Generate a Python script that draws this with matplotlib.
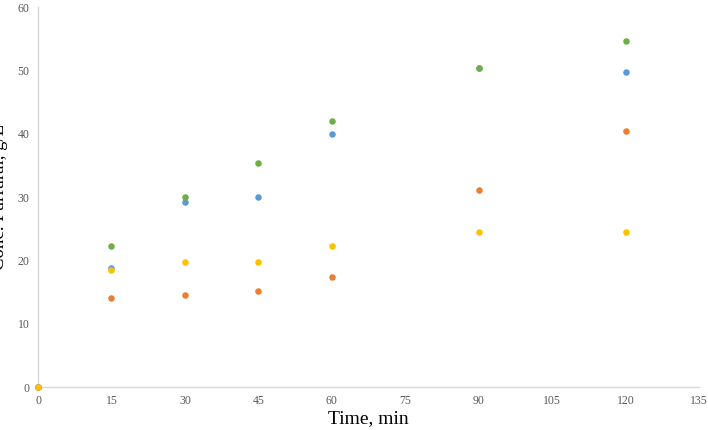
import matplotlib
matplotlib.use("Agg")
import matplotlib.pyplot as plt

time = [0, 15, 30, 45, 60, 90, 120]
blue = [0, 18.8, 29.2, 30.0, 40.0, 50.3, 49.8]
orange = [0, 14.0, 14.6, 15.1, 17.4, 31.1, 40.4]
green = [0, 22.3, 30.0, 35.4, 42.0, 50.3, 54.6]
yellow = [0, 18.5, 19.7, 19.7, 22.2, 24.5, 24.5]
xticks = list(range(0, 136, 15))
yticks = list(range(0, 61, 10))

plt.rcParams['font.family'] = ['Liberation Serif']
fig = plt.figure(figsize=(7.08, 4.30), dpi=100)
ax = fig.add_axes([38/708, 1-387/430, (699-38)/708, (387-7)/430])
for ys, c in [(blue, '#5b9bd5'), (orange, '#ed7d31'), (green, '#70ad47'), (yellow, '#ffc000')]:
    ax.scatter(time, ys, s=22, color=c, zorder=3, clip_on=False, linewidths=0)
ax.set_xlim(0, 135)
ax.set_ylim(0, 60)
ax.set_xticks(xticks)
ax.set_yticks(yticks)
for s in ['top', 'right']:
    ax.spines[s].set_visible(False)
for s in ['left', 'bottom']:
    ax.spines[s].set_color('#d9d9d9')
    ax.spines[s].set_linewidth(1.0)
ax.tick_params(length=0, labelsize=8.5, labelcolor='#595959', pad=6)
ax.set_xlabel('Time, min', fontsize=14, labelpad=2)
ax.set_ylabel('Conc. Furfural, g/L', fontsize=13.5)
ax.yaxis.set_label_coords(-30/661, 0.5)
fig.savefig('out.png', dpi=100)
